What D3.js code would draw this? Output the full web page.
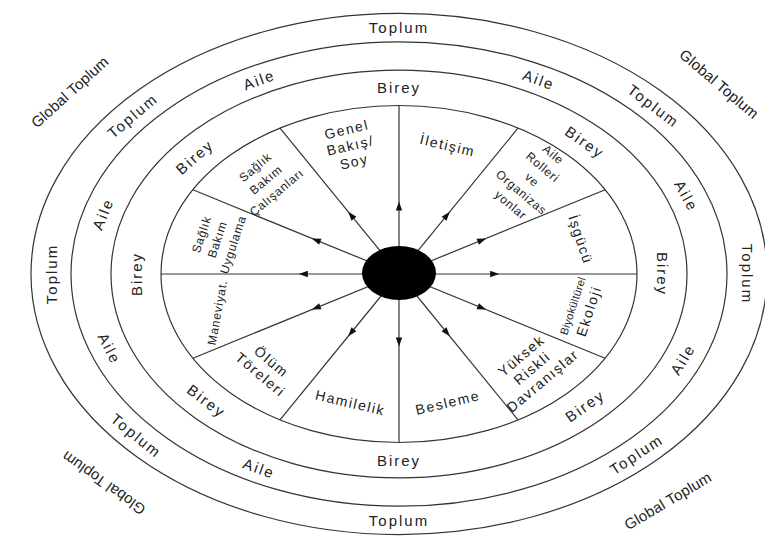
<!DOCTYPE html>
<meta charset="utf-8">
<head>
  <style>
    body { margin: 0; background: #fff; }
    .chart text {
      font-family: "Liberation Sans", Arial, sans-serif;
      fill: #222;
    }
    .ring { fill: none; stroke: #333; stroke-width: 1.2; }
    .spoke { stroke: #333; stroke-width: 1.2; }
  </style>
</head>
<body>
  <div class="chart"></div>
  <script src="https://d3js.org/d3.v7.min.js"></script>
  <script>
    // the 12 domains, clockwise starting at 12 o'clock
    var sectors = [
      ["İletişim"],
      ["Aile", "Rolleri", "ve", "Organizas", "yonlar"],
      ["İşgücü"],
      ["Biyokültürel", "Ekoloji"],
      ["Yüksek", "Riskli", "Davranışlar"],
      ["Besleme"],
      ["Hamilelik"],
      ["Ölüm", "Töreleri"],
      ["Maneviyat."],
      ["Sağlık", "Bakım", "Uygulama"],
      ["Sağlık", "Bakım", "Çalışanları"],
      ["Genel", "Bakış/", "Soy"]
    ];
    var rings = ["Çekirdek", "Birey", "Aile", "Toplum"];
    var bireyLabels = ["Birey", "Birey", "Birey", "Birey", "Birey", "Birey", "Birey", "Birey"];
    var aileLabels = ["Aile", "Aile", "Aile", "Aile", "Aile", "Aile", "Aile"];
    var toplumLabels = ["Toplum", "Toplum", "Toplum", "Toplum", "Toplum", "Toplum", "Toplum", "Toplum"];
    var globalLabels = ["Global Toplum", "Global Toplum", "Global Toplum", "Global Toplum"];

    var width = 765, height = 549;
    var cx = 399, cy = 274, k = 0.708; // vertical squash of the ellipses

    var svg = d3.select(".chart").append("svg")
        .attr("width", width)
        .attr("height", height);

    // outer x-radius of each ring
    var rx = d3.scaleOrdinal().domain(rings).range([238, 288, 328, 368]);
    // sector boundaries in parametric degrees
    var ang = d3.scaleLinear().domain([0, sectors.length]).range([-90, 270]);
    var rad = function(d) { return d * Math.PI / 180; };
    var deg = function(r) { return r * 180 / Math.PI; };

    function pt(tDeg, r) {
      var t = rad(tDeg);
      return [cx + r * Math.cos(t), cy + r * k * Math.sin(t)];
    }
    // direction of the ellipse outline at t
    function tangent(tDeg) {
      var t = rad(tDeg);
      return deg(Math.atan2(k * Math.cos(t), -Math.sin(t)));
    }
    // perpendicular to the line from the centre
    function across(tDeg) {
      var t = rad(tDeg);
      return deg(Math.atan2(k * Math.sin(t), Math.cos(t))) + 90;
    }
    function upright(a) {
      while (a > 180) a -= 360;
      while (a < -180) a += 360;
      if (a > 90.5) a -= 180;
      else if (a < -90.5) a += 180;
      return a;
    }

    // rings
    svg.selectAll(".ring")
        .data(rings)
      .enter().append("ellipse")
        .attr("class", "ring")
        .attr("cx", cx).attr("cy", cy)
        .attr("rx", function(d) { return rx(d); })
        .attr("ry", function(d) { return rx(d) * k; });

    // spokes
    var spokes = d3.range(sectors.length);
    svg.selectAll(".spoke")
        .data(spokes)
      .enter().append("line")
        .attr("class", "spoke")
        .attr("x1", cx).attr("y1", cy)
        .attr("x2", function(i) { return pt(ang(i), rx("Çekirdek"))[0]; })
        .attr("y2", function(i) { return pt(ang(i), rx("Çekirdek"))[1]; });

    // arrow heads pointing outwards
    svg.selectAll(".arrow")
        .data(spokes)
      .enter().append("path")
        .attr("class", "arrow")
        .attr("fill", "#111")
        .attr("d", "M5,0L-4,-3.2L-4,3.2Z")
        .attr("transform", function(i) {
          var p = pt(ang(i), rx("Çekirdek")),
              x = cx + (p[0] - cx) * 0.4,
              y = cy + (p[1] - cy) * 0.4,
              a = deg(Math.atan2(p[1] - cy, p[0] - cx));
          return "translate(" + x + "," + y + ") rotate(" + a + ")";
        });

    // centre
    svg.append("ellipse")
        .attr("cx", cx).attr("cy", cy - 1)
        .attr("rx", 37).attr("ry", 27)
        .attr("fill", "#000");

    // domain labels; the crowded left/upper ones are set smaller in the source
    var compact = ["Aile", "Sağlık", "Maneviyat."];
    var small = function(d) { return compact.indexOf(d[0]) >= 0; };
    var sec = svg.selectAll(".sector")
        .data(sectors)
      .enter().append("text")
        .attr("class", "sector")
        .attr("text-anchor", "middle")
        .attr("dominant-baseline", "central")
        .style("font-size", function(d) { return small(d) ? "12px" : "14px"; })
        .style("letter-spacing", function(d) { return small(d) ? "0.8px" : "1.6px"; })
        .attr("transform", function(d, i) {
          var t = ang(i + 0.5),
              p = pt(t, rx("Çekirdek") * 0.79),
              tg = upright(tangent(t)),
              a = tg + 0.25 * (upright(across(t)) - tg);
          // the left-hand label reads bottom to top in the source
          if (Math.cos(rad(t)) < -0.9 && a > 0) {
            a = -a - 8;
            p[1] += 4;
          }
          return "translate(" + p[0] + "," + p[1] + ") rotate(" + a + ")";
        });
    sec.selectAll("tspan")
        .data(function(d) { return d.map(function(s, j) { return { s: s, j: j, n: d.length }; }); })
      .enter().append("tspan")
        .attr("x", 0)
        .attr("y", function(d) { return (d.j - (d.n - 1) / 2) * (d.n > 2 ? 16.5 : 17); })
        .style("font-size", function(d) { return d.s.length > 11 ? "11px" : null; })
        .style("letter-spacing", function(d) { return d.s.length > 11 ? "0.3px" : null; })
        .text(function(d) { return d.s; });

    // ring labels
    var ringText = [
      { labels: bireyLabels, at: [-90, -45, 0, 45, 90, 137, 180, -141], r: (rx("Çekirdek") + rx("Birey")) / 2 },
      { labels: aileLabels, at: [-117, -63, -21, 23, 117, 160, -164], r: (rx("Birey") + rx("Aile")) / 2 },
      { labels: toplumLabels, at: [-90, -43, 0, 47, 90, 139, 180, -140], r: (rx("Aile") + rx("Toplum")) / 2 },
      { labels: globalLabels, at: [-142, -40, 50, 135], r: 418, global: true }
    ];
    ringText.forEach(function(g) {
      svg.selectAll(null)
          .data(g.labels)
        .enter().append("text")
          .attr("text-anchor", "middle")
          .attr("dominant-baseline", "central")
          .style("font-size", "15px")
          .style("letter-spacing", g.global ? "0.2px" : "2px")
          .attr("transform", function(d, i) {
            var t = g.at[i], p = pt(t, g.r), a = tangent(t);
            // the lower-left global label is printed upside down in the source
            if (!(g.global && t > 90)) a = upright(a);
            return "translate(" + p[0] + "," + p[1] + ") rotate(" + a + ")";
          })
          .text(function(d) { return d; });
    });
  </script>
</body>
